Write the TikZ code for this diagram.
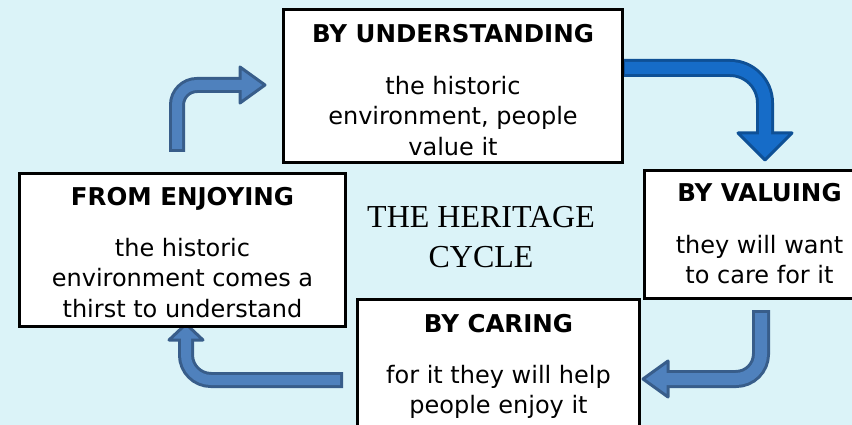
\documentclass[tikz,border=0pt]{standalone}
\usepackage{fontspec}
\setmainfont{DejaVu Sans}
\newfontfamily\titlefont{Liberation Serif}
\usetikzlibrary{positioning}

\definecolor{skyback}{RGB}{219,243,248}
\definecolor{steelfill}{RGB}{79,129,189}
\definecolor{steelline}{RGB}{56,93,138}
\definecolor{royalfill}{RGB}{22,108,200}
\definecolor{royalline}{RGB}{14,80,150}

\tikzset{
  stage/.style={draw=black, line width=3pt, fill=white, anchor=north west, inner sep=0pt},
  stagehead/.style={font=\fontsize{24.5}{28}\selectfont\bfseries, anchor=base, inner sep=0pt},
  stagetext/.style={font=\fontsize{24}{30.5}\selectfont, align=center, inner sep=0pt},
  shaftout/.style={line width=#1},
  shaftin/.style={line width=#1, shorten <=3pt},
  tip/.style={line width=3pt, line join=round},
}

\begin{document}
\begin{tikzpicture}[x=1pt, y=-1pt]
        % background
        \useasboundingbox (0,0) rectangle (852,425);
        \clip (0,0) rectangle (852,425);
        \fill[skyback] (0,0) rectangle (852,425);

        % arrow ends
        \coordinate (a0) at (177,152);
        \coordinate (a1) at (242,85);
        \coordinate (b0) at (622,68);
        \coordinate (b1) at (765,135);
        \coordinate (c0) at (761,310);
        \coordinate (c1) at (666,379);
        \coordinate (d0) at (343,380);
        \coordinate (d1) at (186,338);

        % enjoying -> understanding
        \draw[steelline, shaftout=16pt, rounded corners=20pt] (a0) |- (a1);
        \filldraw[tip, fill=steelfill, draw=steelline] (240,67) -- (265,85) -- (240,103) -- cycle;
        \draw[steelfill, shaftin=10pt, rounded corners=20pt] (a0) |- (a1);

        % understanding -> valuing
        \draw[royalline, shaftout=18pt, rounded corners=35pt] (b0) -| (b1);
        \filldraw[tip, fill=royalfill, draw=royalline] (738,133) -- (765,160) -- (792,133) -- cycle;
        \draw[royalfill, shaftin=12pt, rounded corners=35pt] (b0) -| (b1);

        % valuing -> caring
        \draw[steelline, shaftout=18pt, rounded corners=25pt] (c0) |- (c1);
        \filldraw[tip, fill=steelfill, draw=steelline] (668,361) -- (643,379) -- (668,397) -- cycle;
        \draw[steelfill, shaftin=12pt, rounded corners=25pt] (c0) |- (c1);

        % caring -> enjoying
        \draw[steelline, shaftout=16pt, rounded corners=25pt] (d0) -| (d1);
        \filldraw[tip, fill=steelfill, draw=steelline] (169,340) -- (186,324) -- (203,340) -- cycle;
        \draw[steelfill, shaftin=10pt, rounded corners=25pt] (d0) -| (d1);

        % boxes
        \node[stage, minimum width=339pt, minimum height=153pt] (understand) at (282,8) {};
        \node[stage, minimum width=230pt, minimum height=128pt] (value) at (643,169) {};
        \node[stage, minimum width=282pt, minimum height=150pt] (care) at (356,298) {};
        \node[stage, minimum width=326pt, minimum height=153pt] (enjoy) at (18,172) {};

        % headings
        \node[stagehead] (understandH) at ([yshift=-35pt]understand.north) {BY UNDERSTANDING};
        \node[stagehead] (valueH) at ([yshift=-33pt]value.north) {BY VALUING};
        \node[stagehead] (careH) at ([yshift=-34pt]care.north) {BY CARING};
        \node[stagehead] (enjoyH) at ([yshift=-33pt]enjoy.north) {FROM ENJOYING};

        % texts
        \node[stagetext, below=33pt of understandH.base] (understandT) {the historic\\environment, people\\value it};
        \node[stagetext, below=33pt of valueH.base] (valueT) {they will want\\to care for it};
        \node[stagetext, below=33pt of careH.base] (careT) {for it they will help\\people enjoy it};
        \node[stagetext, below=33pt of enjoyH.base] (enjoyT) {the historic\\environment comes a\\thirst to understand};

        % title
        \node[font=\titlefont\fontsize{32}{40}\selectfont, align=center, inner sep=0pt, anchor=north, text=black] (cycle) at (481,206) {THE HERITAGE\\CYCLE};
\end{tikzpicture}
\end{document}
